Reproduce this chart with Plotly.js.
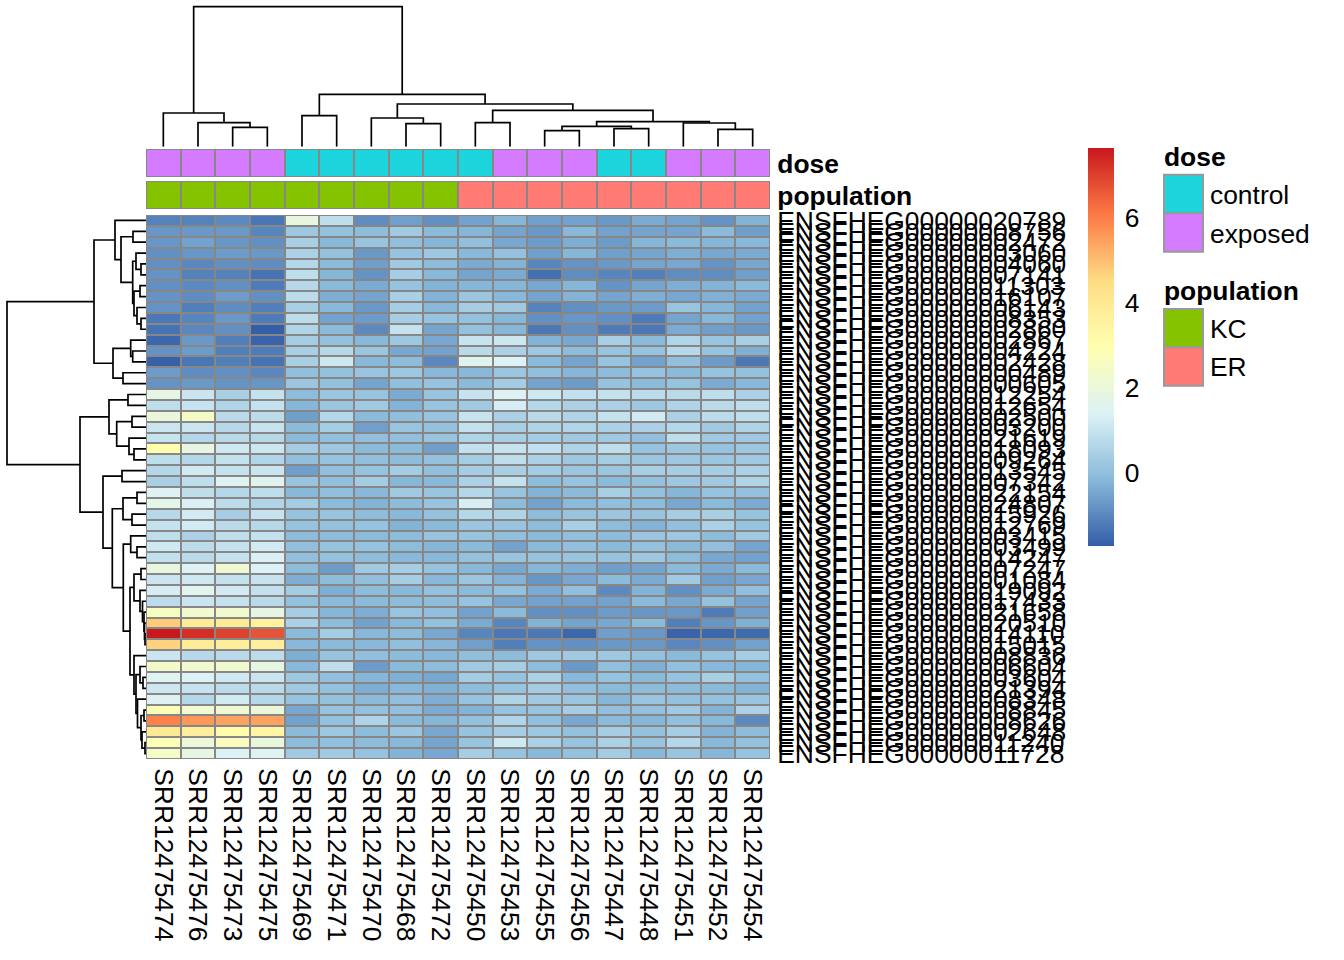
<!DOCTYPE html>
<html>
<head>
<meta charset="utf-8">
<script src="https://cdn.plot.ly/plotly-3.0.1.min.js"></script>
<style>html,body{margin:0;padding:0;background:#fff}</style>
</head>
<body>
<div id="chart" style="width:1344px;height:960px"></div>
<script>
const colNames = ["SRR12475474","SRR12475476","SRR12475473","SRR12475475","SRR12475469","SRR12475471","SRR12475470","SRR12475468","SRR12475472","SRR12475450","SRR12475453","SRR12475455","SRR12475456","SRR12475447","SRR12475448","SRR12475451","SRR12475452","SRR12475454"];
const geneSuffix = ["20789","08756","02472","03060","04060","07141","11303","16107","06143","08353","02860","02867","04224","02428","00489","00605","12254","12654","02500","03200","21619","18093","09264","13545","07342","22154","24807","15926","12769","03415","03499","14247","07247","01084","19092","17433","21658","20510","14110","15015","08836","06604","03604","21394","08348","08845","08626","02648","11240","11728"];
const values = [
[-1.1,-1.1,-0.95,-1.3,1.9,0.85,-0.9,-0.6,-0.85,-0.55,-0.2,-0.6,-0.55,-0.7,-0.4,-0.5,-0.8,-0.25],
[-0.75,-0.7,-0.7,-1.05,0.25,0.05,-0.05,0.3,-0.1,-0.2,-0.5,-0.7,-0.15,-0.55,-0.5,-0.5,-0.1,-0.6],
[-0.75,-0.55,-0.75,-0.85,0.45,-0.15,0.15,0,-0.2,0,-0.45,-0.65,-0.35,-0.65,-0.2,-0.1,-0.2,-0.15],
[-0.85,-0.75,-0.65,-0.7,0.5,0.05,-0.7,0.1,0.25,-0.15,0.05,-0.6,-0.2,-0.6,-0.5,-0.35,-0.45,-0.4],
[-0.85,-1,-0.85,-0.9,0.65,-0.1,-0.6,0.3,-0.05,-0.4,-0.25,-1.05,-0.8,-0.7,-0.5,-0.45,-0.8,-0.45],
[-0.8,-1.1,-1.1,-1.35,0.85,-0.2,-0.8,0.4,-0.15,-0.5,-0.4,-1.4,-0.9,-1.05,-1.15,-0.9,-0.9,-0.6],
[-0.85,-0.95,-0.85,-1.2,0.7,-0.1,-0.4,0.1,-0.25,-0.2,-0.2,-0.45,-0.2,-0.8,-0.5,-0.35,-0.25,-0.1],
[-0.8,-0.9,-0.65,-0.85,0.8,-0.35,-0.5,0.45,-0.25,0.2,-0.15,-0.5,-0.25,-0.5,-0.35,-0.45,-0.3,-0.4],
[-0.8,-1.15,-0.9,-1.15,0.45,-0.15,-0.7,0.4,-0.15,0.4,0.3,-1.1,-0.85,-0.7,-0.65,0.15,-0.2,-0.55],
[-1.25,-1.05,-0.7,-1.2,0.8,-0.55,-0.65,0.4,0.1,0.05,-0.2,-0.85,-0.75,-0.85,-1.2,-0.5,-0.2,-0.55],
[-1.35,-1,-0.85,-1.7,0.55,-0.1,-0.95,0.95,-0.5,0.05,-0.2,-1.25,-0.85,-1.2,-1.25,-0.4,-0.6,-0.7],
[-1.55,-0.7,-1.15,-1.6,0.35,0.05,-0.15,0.25,-0.45,1,1.1,-0.25,-0.45,0.45,-0.1,0.6,0.15,0.45],
[-0.8,-0.65,-1.15,-1.2,0.45,0.7,0.2,-0.45,-0.55,0.75,0.5,0.25,-0.05,0.15,0.1,0.7,0.1,-0.3],
[-1.65,-1.3,-1.15,-1.35,0.45,1.1,-0.15,-0.05,-1,1.55,1.4,-0.1,-0.5,0.1,-0.55,0,-0.65,-1.25],
[-0.65,-0.9,-0.85,-1,0,0.05,0.15,0.25,-0.15,-0.15,0.2,0,-0.2,-0.05,0.1,-0.1,0.1,0.05],
[-0.8,-0.7,-0.8,-0.75,0.2,0.05,-0.5,0,0.1,-0.1,0.35,-0.5,-0.65,0.1,-0.1,0.1,-0.4,-0.15],
[1.8,1.05,0.45,0.95,-0.05,0.2,0.15,-0.4,0.15,1,1.45,1.15,0.9,0.95,0.8,0.75,0.85,0.5],
[0.85,1,0.6,0.95,-0.2,0.2,0.3,-0.25,0.15,0.3,1.25,0.65,0.5,0.5,0.25,0.55,0.75,0.85],
[2,2.5,0.75,0.8,-0.6,0.65,-0.1,0,0.15,1,0.5,0.75,0.55,0.95,1.2,0.5,0.8,0.85],
[1.05,1.05,0.7,1,-0.1,0.35,-0.6,0.15,0.05,0.95,0.45,0.55,0.6,0.5,0.5,0.65,0.3,0.55],
[1,0.65,0.75,0.7,-0.1,0,0,0,0.15,0.55,0.45,0.4,0.3,0.3,0,0.85,0.3,0.3],
[3,1.85,1.15,1.1,0.35,0.25,-0.1,-0.1,-0.6,0.9,1,0.9,0.55,0.85,0.1,0.25,0.1,0.25],
[0.85,0.65,0.95,0.6,0,0.1,0,-0.05,0.05,0.35,0.85,0.5,0.25,0.35,0.2,0.25,0.2,0.3],
[0.65,1.2,0.95,1.05,-0.6,0,0.1,0.35,0,0.4,0.45,0.35,0.2,0.2,0.45,0.4,0.4,0.5],
[0.45,0.85,1.5,1.55,0.15,0,0.35,-0.2,-0.15,0.5,0.95,-0.05,0.1,-0.1,0.05,0.25,0.3,0.55],
[1.45,0.85,0.65,0.85,-0.15,0,-0.15,0.3,0.15,0.65,0.15,-0.25,-0.1,0.45,0.05,-0.2,0.1,0.05],
[1.7,1.35,0.8,0.6,0.35,-0.1,-0.25,-0.05,0.15,1.3,-0.05,-0.55,-0.1,0,-0.05,-0.45,-0.1,-0.4],
[0.7,1.2,0.4,1,0.1,0.15,-0.05,-0.15,0.05,0.65,0.55,-0.05,0.15,0.2,0.15,0.4,0.45,0.1],
[0.95,1.2,0.75,0.7,0.1,0.05,0.1,-0.25,-0.1,0.2,0.15,-0.05,0.45,-0.05,-0.25,0,0.5,0.1],
[0.85,0.5,0.85,0.95,-0.05,-0.05,-0.1,-0.05,0.15,0.15,0,-0.1,0,-0.05,0.2,0.25,-0.05,0.3],
[1.15,0.8,0.95,1.2,0,0.1,0.1,-0.05,-0.2,-0.1,-0.55,-0.1,0,-0.1,0.05,-0.1,0,-0.5],
[0.9,0.75,0.95,1.35,0,0.05,-0.05,-0.15,-0.15,0.05,0.15,0.1,0.15,0.1,0.25,-0.05,-0.45,-0.55],
[1.9,1.4,2.2,1.4,-0.05,-0.65,0.3,0.4,0.1,-0.15,-0.45,-0.2,-0.35,-0.6,-0.5,-0.1,-0.4,-0.1],
[1.05,1.15,0.95,1,-0.35,-0.05,0,0.4,-0.15,0.2,-0.25,-0.75,-0.45,-0.1,-0.4,0.3,-0.6,-0.45],
[1.25,1.6,1.2,0.9,0.35,-0.35,-0.05,-0.15,0.05,-0.1,0.05,-0.4,0,-0.95,-0.25,-0.85,-0.4,0],
[0.8,1.05,0.95,0.75,0.05,-0.1,-0.1,-0.05,-0.05,0.1,-0.45,-0.55,-0.55,-0.55,-0.1,-0.45,0.05,-0.5],
[2.6,2.3,2.3,1.8,0.4,-0.2,-0.35,0.15,0,-0.55,-0.1,-0.85,-0.85,-0.65,-0.75,-0.7,-1.2,-0.6],
[4.8,3.9,3.9,3.6,0.5,-0.05,-0.55,-0.15,0.05,-0.4,-1.05,-0.25,-0.5,-0.45,-0.1,-1.15,-0.75,-0.3],
[7.65,7.3,7,6.7,-0.1,0.35,-0.15,-0.05,-0.45,-1.05,-1.25,-1.25,-1.55,-0.6,-0.7,-1.6,-1.55,-1.5],
[4.7,3.9,3.8,3.7,-0.15,-0.1,-0.15,0,-0.2,-0.6,-1.15,-0.8,-0.85,-0.7,-0.7,-1,-0.85,-0.55],
[1.05,0.7,0.75,0.8,-0.35,0.15,0,-0.05,-0.15,0,-0.05,0.25,0.3,0.25,0.05,-0.1,0.1,0.35],
[2.4,2.3,2.3,1.85,-0.15,0.85,-0.65,-0.1,-0.05,0.3,0.4,-0.05,-0.7,0,-0.3,0,-0.15,-0.2],
[1.5,1.4,1.15,1.05,0.25,0,-0.2,-0.3,-0.45,0.35,0.1,0.5,-0.15,0.1,-0.1,0.1,0.45,0.05],
[1.1,1,0.8,0.75,0.3,0.05,-0.35,-0.15,-0.3,-0.05,0.15,0.35,0,-0.1,-0.05,-0.05,-0.1,-0.25],
[1.45,0.65,1.2,0.65,0.1,0.05,-0.1,0,-0.35,0.1,0.55,0.3,0.2,-0.2,0.15,0.05,0.05,0.15],
[2.85,2.25,2.2,2,-0.45,0.1,0.05,0,-0.4,-0.25,0.1,0.15,0.4,0,0.05,0.3,-0.25,0.5],
[5.95,5.6,5.45,5.45,-0.55,0.05,0.55,-0.1,-0.2,0.05,0.6,0,-0.45,-0.1,-0.2,0,-0.15,-0.95],
[3.95,3.7,3.1,3.4,-0.1,0.25,-0.05,0.2,-0.45,0.1,0.4,0.25,0.05,0.4,0.05,0.4,-0.25,-0.05],
[2.85,2.1,2.65,1.95,-0.05,0,-0.05,-0.15,-0.5,0.15,1.15,0.5,0.15,0.5,0.15,0.65,-0.15,0.05],
[2.45,1.85,1.4,1.5,0.3,0.3,0.1,-0.25,-0.45,0.4,0.1,-0.15,0.05,0.35,-0.15,0.15,-0.2,0.1]
];
const doseAnno = [1,1,1,1,0,0,0,0,0,0,1,1,1,0,0,1,1,1];
const popAnno = [0,0,0,0,0,0,0,0,0,1,1,1,1,1,1,1,1,1];
const doseNames = ["control","exposed"];
const popNames = ["KC","ER"];
const doseColors = ["#1BD4DC","#D47BFF"];
const popColors = ["#85C200","#FF7B73"];
const zMin = -1.72, zMax = 7.65;
const stopZ = [-1.72,-0.16,1.40,2.96,4.52,6.08,7.65];
const stopColors = ["#325DA7","#88B9DA","#DDF2F6","#FFFFB0","#FEDD85","#FC7A45","#C8181E"];
const colMerge = [[-3,-4,19.4],[-2,1,24],[-1,2,33.7],[-5,-6,31],[-8,-9,23],[-7,5,28.7],[-10,-11,24],[-12,-13,16],[-14,-15,18],[8,9,20.4],[-17,-18,17.4],[-16,11,23.7],[10,12,25],[7,13,36.4],[6,14,42.7],[4,15,52.4],[3,16,140]];
const rowMerge = [[-2,-3,13],[-5,-6,5],[-4,2,10],[-7,-8,6],[-10,-11,5],[-9,5,9],[4,6,12],[3,7,13.3],[1,8,25],[-1,9,31],[-13,-14,13.3],[-12,11,15.3],[-15,-16,23],[12,13,33],[10,14,52],[-17,-18,18],[-19,-20,14],[-22,-23,12],[-21,18,17],[17,19,29.3],[16,20,37],[-24,-25,24],[-26,-27,9],[-28,-29,14],[23,24,23],[-31,-32,9],[-30,26,15.3],[-33,-34,5],[-39,-40,1],[-38,29,1.5],[-37,30,2],[-36,31,3.5],[-35,32,6],[28,33,12],[-43,-44,3],[-42,35,6],[-46,-47,2],[-49,-50,1],[-48,38,4],[37,39,5],[-45,40,8.5],[36,41,10],[-41,42,12],[34,43,16],[27,44,22.7],[25,45,33.7],[22,46,43],[21,47,66],[15,48,139]];

const W = 1344, H = 960;
const geneNames = geneSuffix.map(s => "ENSFHEG000000" + s);
const colIdx = colNames.map((_, i) => i + 1);
const rowIdx = geneNames.map((_, i) => i + 1);
const dx = (a, b) => [a / W, b / W];
const dy = (top, bottom) => [1 - bottom / H, 1 - top / H];
const colorscale = stopZ.map((z, i) => [(z - zMin) / (zMax - zMin), stopColors[i]]);

// Walk a merge table: each merge draws a bracket between its two children.
function bracketPaths(merge) {
  const pos = [], hgt = [], leaf = [], height = [];
  const coord = id => id < 0 ? [-id, 0] : [pos[id - 1], hgt[id - 1]];
  merge.forEach(m => {
    const [p1, h1] = coord(m[0]), [p2, h2] = coord(m[1]), h = m[2];
    leaf.push(p1, p1, p2, p2, null);
    height.push(h1, h, h, h2, null);
    pos.push((p1 + p2) / 2);
    hgt.push(h);
  });
  return {leaf, height};
}
const topTree = bracketPaths(colMerge);
const leftTree = bracketPaths(rowMerge);

const FONT = "'Liberation Sans', Arial, Helvetica, sans-serif";
const FS = 26.4;
const hidden = {visible:false, showgrid:false, zeroline:false, fixedrange:true};

const traces = [
  {type:'heatmap', x:colIdx, y:rowIdx, z:values, zmin:zMin, zmax:zMax, colorscale:colorscale,
   xgap:2, ygap:2, xaxis:'x', yaxis:'y', hoverinfo:'skip',
   colorbar:{x:1088/W, xanchor:'left', y:1-347/H, yanchor:'middle', thickness:26, thicknessmode:'pixels',
     len:398, lenmode:'pixels', outlinewidth:0, borderwidth:0, xpad:0, ypad:0,
     tickmode:'array', tickvals:[0,2,4,6], ticktext:["0","2","4","6"], ticks:'outside', ticklen:6,
     tickcolor:'rgba(0,0,0,0)', tickfont:{family:FONT,size:FS,color:'#000'}}},
  {type:'heatmap', x:colIdx, y:["dose"], z:[doseAnno], zmin:0, zmax:1, showscale:false,
   colorscale:[[0,doseColors[0]],[1,doseColors[1]]], xgap:2, ygap:0, xaxis:'x2', yaxis:'y2', hoverinfo:'skip'},
  {type:'heatmap', x:colIdx, y:["population"], z:[popAnno], zmin:0, zmax:1, showscale:false,
   colorscale:[[0,popColors[0]],[1,popColors[1]]], xgap:2, ygap:0, xaxis:'x3', yaxis:'y3', hoverinfo:'skip'},
  {type:'scatter', mode:'lines', x:topTree.leaf, y:topTree.height, line:{color:'#000',width:1.7},
   xaxis:'x4', yaxis:'y4', hoverinfo:'skip', cliponaxis:false, connectgaps:false},
  {type:'scatter', mode:'lines', x:leftTree.height, y:leftTree.leaf, line:{color:'#000',width:1.7},
   xaxis:'x5', yaxis:'y5', hoverinfo:'skip', cliponaxis:false, connectgaps:false}
];

const annoY = (name) => ({tickmode:'array', tickvals:[name], ticktext:[name], side:'right',
  showgrid:false, zeroline:false, showline:false, ticks:'outside', ticklen:1, tickcolor:'rgba(0,0,0,0)',
  ticklabelshift:1, tickfont:{family:FONT,size:FS,color:'#000',weight:'bold'}, fixedrange:true, type:'category'});

const GREY = '#878787';
const frame = (xr, yr) => ({type:'rect', layer:'below', xref:'paper', yref:'paper',
  x0:(xr[0])/W, x1:(xr[1])/W, y0:1-yr[1]/H, y1:1-yr[0]/H, fillcolor:GREY, line:{width:0}});
const swatch = (top, bottom, fill) => ({type:'rect', xref:'paper', yref:'paper', layer:'above',
  x0:1164/W, x1:1203/W, y0:1-bottom/H, y1:1-top/H, fillcolor:fill, line:{color:'#999999',width:2}});
const note = (x, y, text, bold) => ({xref:'paper', yref:'paper', x:x/W, y:1-y/H, text:bold ? '<b>'+text+'</b>' : text,
  showarrow:false, xanchor:'left', yanchor:'middle', xshift:-2, font:{family:FONT,size:FS,color:'#000'}});

const layout = {
  width:W, height:H, margin:{l:0,r:0,t:0,b:0,pad:0}, paper_bgcolor:'#fff', plot_bgcolor:'rgba(0,0,0,0)',
  showlegend:false, font:{family:FONT,size:FS,color:'#000'},
  xaxis:{domain:dx(146,770), range:[0.5,18.5], anchor:'y', side:'bottom', tickmode:'array', tickvals:colIdx, ticktext:colNames,
    tickangle:90, ticks:'outside', ticklen:3, tickcolor:'rgba(0,0,0,0)', showgrid:false, zeroline:false, showline:false,
    tickfont:{family:FONT,size:FS,color:'#000'}, fixedrange:true},
  yaxis:{domain:dy(215,759), range:[50.5,0.5], anchor:'x', side:'right', tickmode:'array', tickvals:rowIdx, ticktext:geneNames,
    ticks:'outside', ticklen:1, tickcolor:'rgba(0,0,0,0)', showgrid:false, zeroline:false, showline:false,
    tickfont:{family:FONT,size:FS,color:'#000'}, fixedrange:true},
  xaxis2:Object.assign({}, hidden, {domain:dx(146,770), range:[0.5,18.5], anchor:'y2'}),
  yaxis2:Object.assign(annoY("dose"), {domain:dy(150,176), anchor:'x2'}),
  xaxis3:Object.assign({}, hidden, {domain:dx(146,770), range:[0.5,18.5], anchor:'y3'}),
  yaxis3:Object.assign(annoY("population"), {domain:dy(182,208), anchor:'x3'}),
  xaxis4:Object.assign({}, hidden, {domain:dx(146,770), range:[0.5,18.5], anchor:'y4'}),
  yaxis4:Object.assign({}, hidden, {domain:dy(0,146.7), range:[0,146.7], anchor:'x4'}),
  xaxis5:Object.assign({}, hidden, {domain:dx(0,146), range:[146,0], anchor:'y5'}),
  yaxis5:Object.assign({}, hidden, {domain:dy(215,759), range:[50.5,0.5], anchor:'x5'}),
  shapes:[
    frame([146,770],[215,759]),
    frame([146,770],[149,177]),
    frame([146,770],[181,209]),
    swatch(174.7,213.3,doseColors[0]), swatch(213.3,251.7,doseColors[1]),
    swatch(309,347.3,popColors[0]), swatch(347.3,385.7,popColors[1])
  ],
  annotations:[
    note(1164,157,'dose',true), note(1210,195,doseNames[0]), note(1210,234,doseNames[1]),
    note(1164,291,'population',true), note(1210,329,popNames[0]), note(1210,367,popNames[1])
  ]
};
Plotly.newPlot('chart', traces, layout, {displayModeBar:false, staticPlot:true, responsive:false});
</script>
</body>
</html>
